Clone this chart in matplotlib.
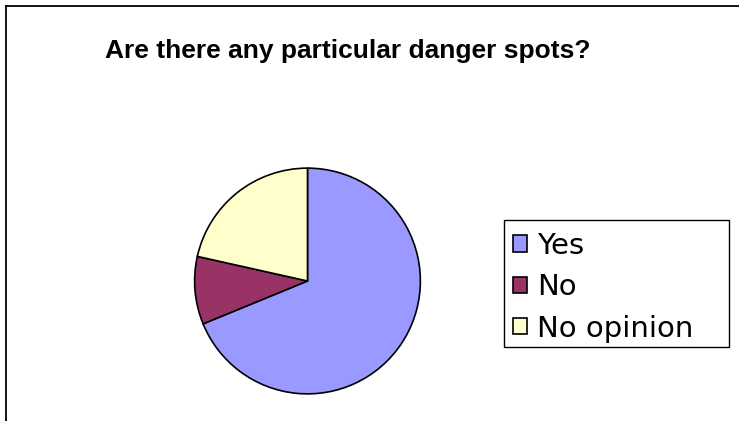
import matplotlib
matplotlib.use("Agg")
import matplotlib.pyplot as plt
from matplotlib.lines import Line2D
from matplotlib.patches import Rectangle

title = "Are there any particular danger spots?"
categories = ["Yes", "No", "No opinion"]
values = [68.8, 9.7, 21.5]
colors = ["#9999FF", "#993366", "#FFFFCC"]

W, H = 739, 421
fig = plt.figure(figsize=(W / 100, H / 100), dpi=100)
fig.patch.set_facecolor("white")

# outer frame (left and top edges visible)
fig.add_artist(Line2D([6 / W, 6 / W], [0, 1 - 6 / H], transform=fig.transFigure,
                      color="black", lw=1.3))
fig.add_artist(Line2D([6 / W, 1], [1 - 6 / H, 1 - 6 / H], transform=fig.transFigure,
                      color="black", lw=1.3))

# pie axes: centre (307.5, 281) px, radius 114 px
cx, cy, r = 307.5, 281, 114
ax = fig.add_axes([(cx - r) / W, (H - cy - r) / H, 2 * r / W, 2 * r / H])
wedges, _ = ax.pie(values, colors=colors, startangle=90, counterclock=False,
                   wedgeprops=dict(edgecolor="black", linewidth=1.2))
ax.set_xlim(-1.01, 1.01)
ax.set_ylim(-1.01, 1.01)
ax.set_aspect("equal")
ax.axis("off")

fig.text(348 / W, 1 - 51 / H, title, ha="center", va="center",
         fontsize=19, fontweight="bold", family="Liberation Sans")

# legend box
fig.add_artist(Rectangle((504 / W, 1 - 347 / H), (729 - 504) / W, (347 - 220) / H,
                         transform=fig.transFigure, facecolor="white",
                         edgecolor="black", linewidth=1.0, zorder=1))
leg = fig.legend(wedges, categories, loc="upper left",
                 bbox_to_anchor=(504 / W, 1 - 223 / H),
                 prop=dict(family="DejaVu Sans", size=21),
                 frameon=False,
                 handlelength=0.48, handleheight=0.48, handletextpad=0.36,
                 labelspacing=0.46, borderpad=0.3, borderaxespad=0)
leg.set_zorder(2)

fig.savefig("out.png", dpi=100, facecolor="white")
